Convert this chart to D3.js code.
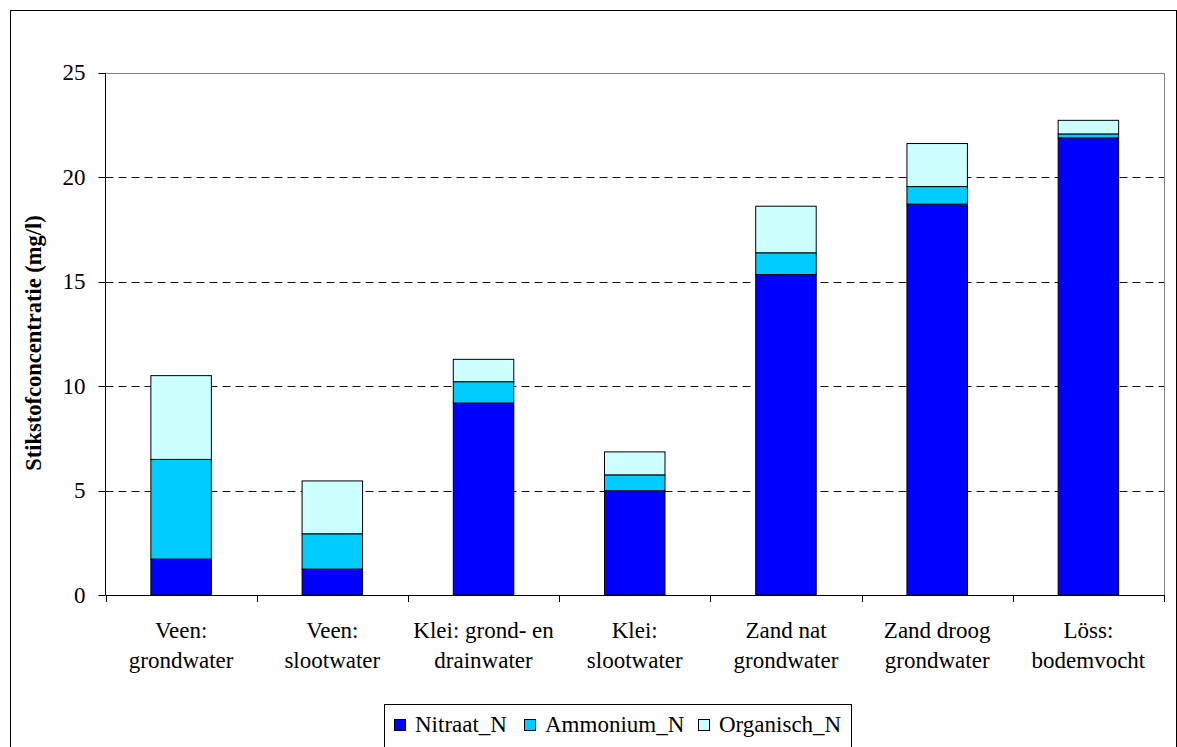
<!DOCTYPE html>
<html><head><meta charset="utf-8">
<script src="https://cdn.jsdelivr.net/npm/d3@7"></script>
</head><body>
<svg id="c" width="1177" height="747"></svg>
<script>
const categories = [["Veen:","grondwater"],["Veen:","slootwater"],["Klei: grond- en","drainwater"],["Klei:","slootwater"],["Zand nat","grondwater"],["Zand droog","grondwater"],["Löss:","bodemvocht"]];
const nitraat = [1.72, 1.24, 9.19, 4.99, 15.34, 18.71, 21.88];
const ammonium = [4.77, 1.69, 1.02, 0.76, 1.04, 0.84, 0.19];
const organisch = [4.01, 2.53, 1.07, 1.10, 2.23, 2.06, 0.65];
const seriesNames = ["Nitraat_N","Ammonium_N","Organisch_N"];
const colors = ["#0000FF","#00CCFF","#CCFFFF"];
const yTicks = [0,5,10,15,20,25];

d3.select("body").style("margin","0px");
const svg = d3.select("#c").style("display","block").style("font-family","Liberation Serif");
const font = "Liberation Serif";
const fs = 23;
const L=105.5, R=1164, T=72.7, B=595;

svg.append("rect").attr("x",10.5).attr("y",10.5).attr("width",1166).attr("height",760)
  .attr("fill","#fff").attr("stroke","#000").attr("stroke-width",1);

const x = d3.scaleBand().domain(d3.range(categories.length)).range([L,R]).paddingInner(0.6).paddingOuter(0.3);
const y = d3.scaleLinear().domain([0,25]).range([B,T]);

// gridlines
svg.append("g").selectAll("line").data(yTicks.filter(d=>d>0 && d<25)).join("line")
  .attr("x1",L).attr("x2",R).attr("y1",d=>Math.round(y(d))+0.5).attr("y2",d=>Math.round(y(d))+0.5)
  .attr("stroke","#111").attr("stroke-dasharray","8,5");
// plot border top/right
svg.append("path").attr("d",`M${L},${Math.round(T)+0.5}H${R+0.5}V${B}`).attr("fill","none").attr("stroke","#808080");

// stacked data
const rows = categories.map((c,i)=>({i, Nitraat_N:nitraat[i], Ammonium_N:ammonium[i], Organisch_N:organisch[i]}));
const stack = d3.stack().keys(seriesNames)(rows);
svg.append("g").selectAll("g").data(stack).join("g").attr("fill",(d,i)=>colors[i])
  .selectAll("rect").data(d=>d).join("rect")
  .attr("x",d=>x(d.data.i)).attr("width",x.bandwidth())
  .attr("y",d=>y(d[1])).attr("height",d=>y(d[0])-y(d[1]))
  .attr("stroke","#000").attr("stroke-width",1);

// y axis (line + ticks)
svg.append("line").attr("x1",L).attr("x2",L).attr("y1",T).attr("y2",B).attr("stroke","#000");
svg.append("g").selectAll("line").data(yTicks).join("line")
  .attr("x1",L-7).attr("x2",L).attr("y1",d=>Math.round(y(d))+0.5).attr("y2",d=>Math.round(y(d))+0.5).attr("stroke","#000");
svg.append("g").selectAll("text").data(yTicks).join("text")
  .attr("font-family",font).style("font-family",font).style("font-size",fs+"px").attr("fill","#000")
  .attr("text-anchor","end").attr("x",L-20).attr("y",d=>y(d)).attr("dy","0.33em").text(d=>d);

// x axis
svg.append("line").attr("x1",L).attr("x2",R).attr("y1",B+0.5).attr("y2",B+0.5).attr("stroke","#000");
const bounds = d3.range(categories.length+1).map(i=>L + i*(R-L)/categories.length);
svg.append("g").selectAll("line").data(bounds).join("line")
  .attr("x1",d=>Math.round(d)+0.5).attr("x2",d=>Math.round(d)+0.5).attr("y1",B).attr("y2",B+7).attr("stroke","#000");
const xl = svg.append("g").selectAll("text").data(categories).join("text")
  .attr("font-family",font).style("font-family",font).style("font-size",fs+"px").attr("text-anchor","middle").attr("fill","#000")
  .attr("transform",(d,i)=>`translate(${x(i)+x.bandwidth()/2},0)`);
xl.selectAll("tspan").data(d=>d).join("tspan").attr("x",0).attr("y",(d,j)=>638+j*30).text(d=>d);

// y title
svg.append("text").attr("transform","translate(41,343) rotate(-90)").attr("text-anchor","middle")
  .attr("font-family",font).style("font-family",font).style("font-size",(fs-0.5)+"px").style("font-weight","bold").text("Stikstofconcentratie (mg/l)");

// legend
svg.append("rect").attr("x",384.5).attr("y",704.5).attr("width",467).attr("height",60).attr("fill","#fff").attr("stroke","#000");
const lx = [394,524,698];
const lg = svg.append("g").selectAll("g").data(seriesNames).join("g").attr("transform",(d,i)=>`translate(${lx[i]},0)`);
lg.append("rect").attr("x",0.5).attr("y",719.5).attr("width",11).attr("height",11).attr("fill",(d,i)=>colors[i]).attr("stroke","#000");
lg.append("text").attr("x",21).attr("y",731.5).attr("font-family",font).style("font-family",font).style("font-size",fs+"px").attr("fill","#000").text(d=>d);
</script>
</body></html>
